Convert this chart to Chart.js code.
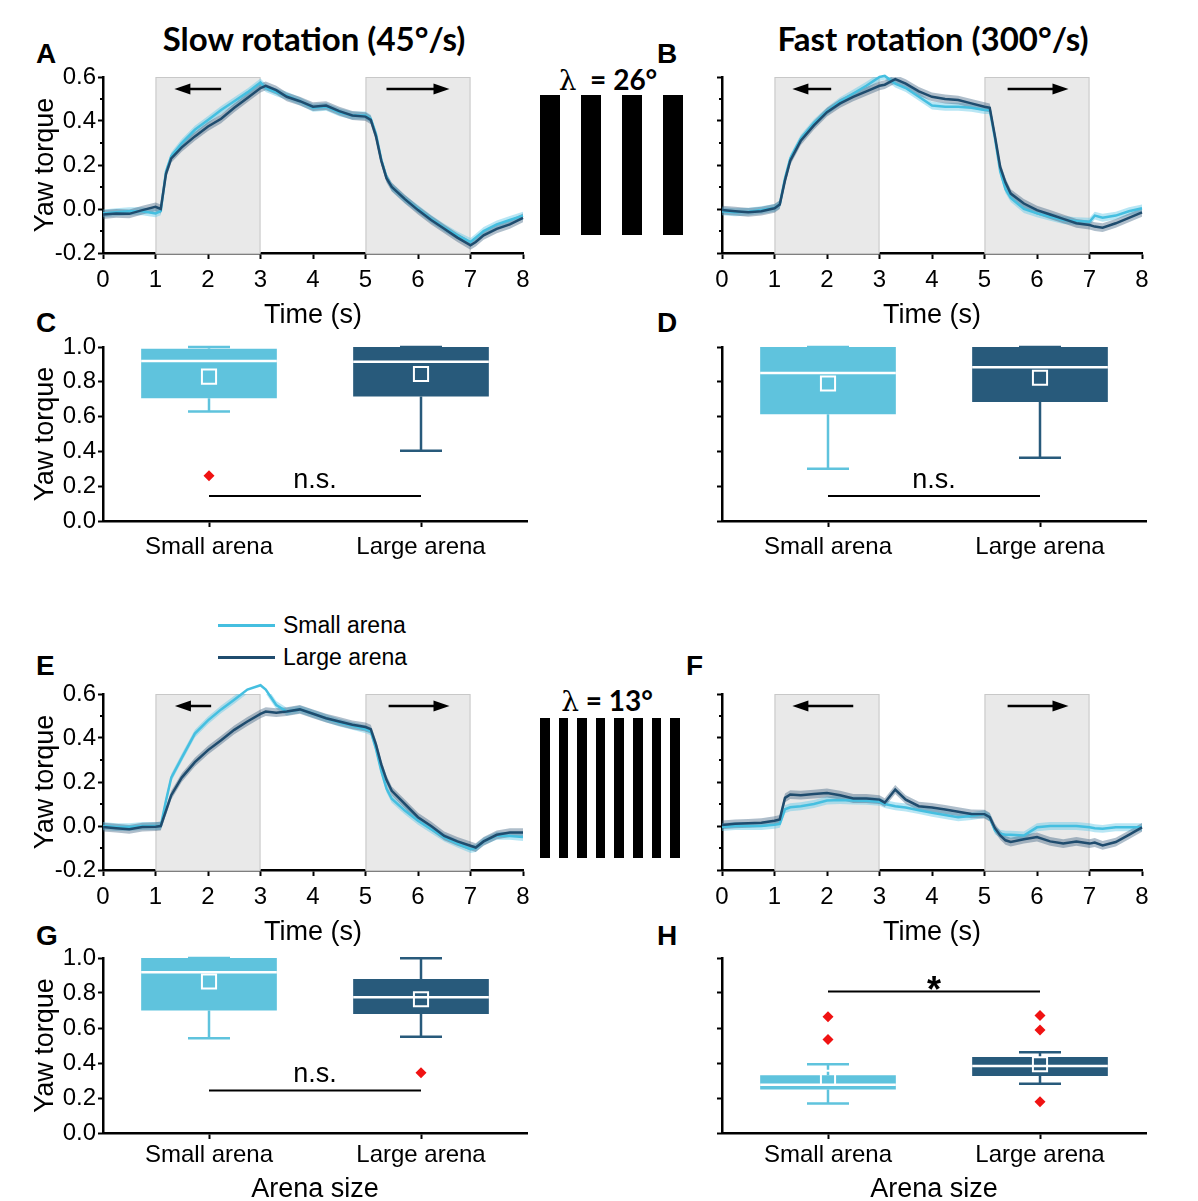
<!DOCTYPE html>
<html>
<head>
<meta charset="utf-8">
<title>Yaw torque - arena size</title>
<script src="https://cdn.jsdelivr.net/npm/chart.js@4.4.1/dist/chart.umd.min.js"></script>
<style>
  html, body { margin: 0; padding: 0; background: #fff; }
  body { position: relative; width: 1198px; height: 1201px; overflow: hidden; font-family: "Liberation Sans", Arial, sans-serif; color: #000; }
  canvas { position: absolute; }
  .letter { position: absolute; font-weight: bold; font-size: 28px; line-height: 28px; }
  .title { position: absolute; font-family: Lato, "Open Sans", sans-serif; font-weight: bold; font-size: 33px; line-height: 33px; transform: translate(-50%, -50%); white-space: nowrap; }
  .lam { position: absolute; font-family: Lato, "Open Sans", sans-serif; font-weight: bold; font-size: 28px; line-height: 28px; transform: translate(-50%, -50%); white-space: nowrap; }
  .lam span { font-family: "DejaVu Serif", "Liberation Serif", serif; font-weight: normal; }
  .bar { position: absolute; background: #000; }
  .leg { position: absolute; font-size: 23px; line-height: 23px; white-space: nowrap; }
  .legline { position: absolute; height: 3px; width: 57px; }
</style>
</head>
<body>

<div class="title" style="left:314px;top:38px">Slow rotation (45°/s)</div>
<div class="title" style="left:933px;top:38px">Fast rotation (300°/s)</div>

<div class="letter" style="left:36px;top:40px">A</div>
<div class="letter" style="left:657px;top:40px">B</div>
<div class="letter" style="left:36px;top:309px">C</div>
<div class="letter" style="left:657px;top:309px">D</div>
<div class="letter" style="left:36px;top:652px">E</div>
<div class="letter" style="left:686px;top:652px">F</div>
<div class="letter" style="left:36px;top:922px">G</div>
<div class="letter" style="left:657px;top:922px">H</div>

<div class="lam" style="left:608px;top:80px"><span>λ</span>&nbsp; = 26°</div>
<div class="lam" style="left:607px;top:701px"><span>λ</span> = 13°</div>
<div id="gratings"></div>
<div id="legend"></div>

<canvas id="chartA" width="540" height="275" style="left:0;top:60px"></canvas>
<canvas id="chartB" width="540" height="275" style="left:619px;top:60px"></canvas>
<canvas id="chartC" width="540" height="240" style="left:0;top:330px"></canvas>
<canvas id="chartD" width="540" height="240" style="left:619px;top:330px"></canvas>
<canvas id="chartE" width="540" height="275" style="left:0;top:677px"></canvas>
<canvas id="chartF" width="540" height="275" style="left:619px;top:677px"></canvas>
<canvas id="chartG" width="540" height="270" style="left:0;top:941px"></canvas>
<canvas id="chartH" width="540" height="270" style="left:619px;top:941px"></canvas>

<script>
// thời điểm lấy mẫu (s)
const times = [0, 0.25, 0.5, 0.75, 1, 1.1, 1.2, 1.3, 1.5, 1.75, 2, 2.25, 2.5, 2.75, 3, 3.1, 3.3, 3.5, 3.75,
  4, 4.25, 4.5, 4.75, 5, 5.1, 5.2, 5.3, 5.4, 5.5, 5.75, 6, 6.25, 6.5, 6.75, 7, 7.1, 7.25, 7.5, 7.75, 8];

// A: slow rotation, lambda 26
const slow26Small = [-0.02, -0.015, -0.01, -0.01, -0.02, -0.01, 0.17, 0.24, 0.30, 0.36, 0.405, 0.45, 0.49, 0.53,
  0.575, 0.55, 0.53, 0.515, 0.49, 0.46, 0.465, 0.44, 0.425, 0.425, 0.41, 0.34, 0.225, 0.145, 0.10, 0.045,
  0.0, -0.045, -0.085, -0.12, -0.15, -0.13, -0.10, -0.07, -0.05, -0.03];
const slow26Large = [-0.025, -0.02, -0.022, -0.005, 0.01, 0.0, 0.16, 0.23, 0.28, 0.33, 0.375, 0.41, 0.46, 0.505,
  0.55, 0.56, 0.54, 0.51, 0.49, 0.465, 0.47, 0.445, 0.425, 0.42, 0.405, 0.33, 0.22, 0.14, 0.10, 0.045,
  -0.005, -0.05, -0.09, -0.13, -0.165, -0.15, -0.12, -0.09, -0.07, -0.04];
// B: fast rotation, lambda 26
const fast26Small = [-0.01, -0.015, -0.012, -0.005, 0.005, 0.02, 0.14, 0.23, 0.32, 0.39, 0.445, 0.49, 0.525, 0.56,
  0.60, 0.605, 0.57, 0.55, 0.51, 0.47, 0.465, 0.465, 0.46, 0.45, 0.45, 0.32, 0.17, 0.09, 0.05, 0.0,
  -0.02, -0.035, -0.05, -0.055, -0.058, -0.03, -0.04, -0.03, -0.01, 0.003];
const fast26Large = [-0.005, -0.01, -0.015, -0.01, 0.003, 0.02, 0.13, 0.22, 0.31, 0.38, 0.44, 0.48, 0.51, 0.535,
  0.56, 0.565, 0.59, 0.57, 0.535, 0.51, 0.50, 0.495, 0.48, 0.465, 0.46, 0.33, 0.19, 0.12, 0.07, 0.025,
  -0.005, -0.025, -0.045, -0.065, -0.073, -0.08, -0.085, -0.065, -0.04, -0.015];
// E: slow rotation, lambda 13
const slow13Small = [0.0, -0.005, -0.005, 0.0, 0.0, 0.0, 0.116, 0.22, 0.31, 0.42, 0.48, 0.53, 0.574, 0.62,
  0.64, 0.62, 0.55, 0.52, 0.53, 0.51, 0.49, 0.47, 0.455, 0.44, 0.43, 0.35, 0.25, 0.17, 0.124, 0.07,
  0.024, -0.015, -0.052, -0.08, -0.105, -0.10, -0.07, -0.044, -0.045, -0.05];
const slow13Large = [-0.005, -0.01, -0.015, -0.005, -0.003, 0.0, 0.07, 0.14, 0.22, 0.29, 0.345, 0.39, 0.437, 0.475,
  0.51, 0.52, 0.515, 0.52, 0.53, 0.51, 0.49, 0.475, 0.46, 0.45, 0.44, 0.37, 0.28, 0.21, 0.16, 0.10,
  0.04, 0.0, -0.045, -0.07, -0.09, -0.098, -0.07, -0.04, -0.03, -0.03];
// F: fast rotation, lambda 13
const fast13Small = [-0.005, 0.0, 0.0, 0.0, 0.006, 0.01, 0.076, 0.085, 0.09, 0.10, 0.116, 0.118, 0.116, 0.115,
  0.11, 0.10, 0.09, 0.084, 0.072, 0.06, 0.05, 0.04, 0.045, 0.054, 0.04, -0.02, -0.035, -0.04, -0.04, -0.043,
  -0.006, 0.0, 0.0, 0.0, -0.006, -0.01, -0.013, -0.006, -0.006, -0.006];
const fast13Large = [0.005, 0.01, 0.012, 0.015, 0.024, 0.03, 0.128, 0.143, 0.14, 0.145, 0.15, 0.14, 0.125, 0.125,
  0.12, 0.106, 0.166, 0.12, 0.09, 0.084, 0.075, 0.065, 0.055, 0.054, 0.04, -0.01, -0.043, -0.065, -0.073, -0.06,
  -0.05, -0.07, -0.08, -0.07, -0.08, -0.075, -0.088, -0.073, -0.04, -0.006];

const semSmall = 0.018;
const semLarge = 0.02;
const stimWindows = [[1, 3], [5, 7]];

const categories = ['Small arena', 'Large arena'];
const seriesNames = ['Small arena', 'Large arena'];

// box plot: C (slow 26), D (fast 26), G (slow 13), H (fast 13)
const cLow = [0.63, 0.404], cQ1 = [0.705, 0.715], cMedian = [0.92, 0.915], cQ3 = [0.99, 1.0], cHigh = [1.0, 1.0], cMean = [0.83, 0.845];
const cOutSmall = [0.26], cOutLarge = [];
const dLow = [0.30, 0.364], dQ1 = [0.613, 0.684], dMedian = [0.85, 0.884], dQ3 = [1.0, 1.0], dHigh = [1.0, 1.0], dMean = [0.79, 0.823];
const dOutSmall = [], dOutLarge = [];
const gLow = [0.542, 0.55], gQ1 = [0.70, 0.68], gMedian = [0.918, 0.776], gQ3 = [1.0, 0.88], gHigh = [1.0, 0.998], gMean = [0.866, 0.764];
const gOutSmall = [], gOutLarge = [0.345];
const hLow = [0.169, 0.282], hQ1 = [0.248, 0.326], hMedian = [0.276, 0.383], hQ3 = [0.33, 0.435], hHigh = [0.393, 0.462], hMean = [0.315, 0.393];
const hOutSmall = [0.665, 0.534], hOutLarge = [0.672, 0.588, 0.178];
const sigLevels = [0.143, 0.143, 0.243, 0.808];   // C, D, G, H
const sigTexts = ['n.s.', 'n.s.', 'n.s.', '*'];

// màu sắc
const lineSmall = '#45bfe0';
const lineLarge = '#1f4c6e';
const bandSmall = 'rgba(98, 200, 230, 0.45)';
const bandLarge = 'rgba(45, 85, 118, 0.38)';
const boxSmall = '#5fc3dd';
const boxLarge = '#285a7b';

Chart.defaults.font.family = '"Liberation Sans", Arial, sans-serif';
Chart.defaults.color = '#000';

const tickFont = { size: 24 };
const titleFont = { size: 27 };

// legend + gratings (HTML)
const legend = document.getElementById('legend');
[lineSmall, lineLarge].forEach((c, i) => {
    const ln = document.createElement('div');
    ln.className = 'legline';
    ln.style.cssText = `left:218px;top:${624 + i * 32}px;background:${c}`;
    legend.appendChild(ln);
    const tx = document.createElement('div');
    tx.className = 'leg';
    tx.style.cssText = `left:283px;top:${614 + i * 32}px`;
    tx.textContent = seriesNames[i];
    legend.appendChild(tx);
});
const gratings = document.getElementById('gratings');
function addGrating(n, x0, period, w, top) {
    for (let i = 0; i < n; i++) {
        const b = document.createElement('div');
        b.className = 'bar';
        b.style.cssText = `left:${x0 + i * period}px;top:${top}px;width:${w}px;height:140px`;
        gratings.appendChild(b);
    }
}
addGrating(4, 540, 41, 19.5, 95);
addGrating(8, 540, 18.6, 9.5, 718);

// vùng kích thích + mũi tên + vạch phụ
const stimPlugin = {
    id: 'stim',
    beforeDatasetsDraw(chart) {
        const { ctx, chartArea: a, scales: { x } } = chart;
        ctx.save();
        stimWindows.forEach(w => {
            const x0 = x.getPixelForValue(w[0]), x1 = x.getPixelForValue(w[1]);
            ctx.fillStyle = '#e9e9e9';
            ctx.fillRect(x0, a.top, x1 - x0, a.bottom - a.top);
            ctx.strokeStyle = '#c8c8c8';
            ctx.lineWidth = 1;
            ctx.strokeRect(x0 + 0.5, a.top + 0.5, x1 - x0 - 1, a.bottom - a.top);
        });
        ctx.restore();
    },
    afterDatasetsDraw(chart, args, opts) {
        const { ctx, chartArea: a, scales: { x } } = chart;
        const yy = a.top + 12;
        ctx.save();
        ctx.strokeStyle = '#000';
        ctx.fillStyle = '#000';
        ctx.lineWidth = 2.5;
        (opts.arrows || []).forEach(([from, to]) => {
            const x0 = x.getPixelForValue(from), x1 = x.getPixelForValue(to);
            const dir = Math.sign(x1 - x0);
            ctx.beginPath();
            ctx.moveTo(x0, yy);
            ctx.lineTo(x1 - dir * 12, yy);
            ctx.stroke();
            ctx.beginPath();
            ctx.moveTo(x1, yy);
            ctx.lineTo(x1 - dir * 16, yy - 5.5);
            ctx.lineTo(x1 - dir * 16, yy + 5.5);
            ctx.closePath();
            ctx.fill();
        });
        ctx.restore();
    },
    afterDraw(chart) {
        const { ctx, scales: { y } } = chart;
        ctx.save();
        ctx.strokeStyle = '#000';
        ctx.lineWidth = 2;
        for (let v = y.min + 0.1; v < y.max; v += 0.2) {
            const py = Math.round(y.getPixelForValue(v));
            ctx.beginPath();
            ctx.moveTo(y.right - 3, py);
            ctx.lineTo(y.right, py);
            ctx.stroke();
        }
        ctx.restore();
    }
};

function timeChart(id, small, large, showLabels, arrows) {
    const pts = (v, d) => times.map((t, i) => ({ x: t, y: v[i] + d }));
    const band = (v, d, fillColor) => ({
        data: pts(v, d), borderWidth: 0, borderColor: 'transparent', pointRadius: 0,
        fill: fillColor ? '+1' : false, backgroundColor: fillColor || 'transparent'
    });
    return new Chart(document.getElementById(id), {
        type: 'line',
        data: {
            datasets: [
                { label: seriesNames[1], data: pts(large, 0), borderColor: lineLarge, borderWidth: 2.5, pointRadius: 0, clip: false },
                { label: seriesNames[0], data: pts(small, 0), borderColor: lineSmall, borderWidth: 2.5, pointRadius: 0, clip: false },
                band(large, semLarge, bandLarge),
                band(large, -semLarge, null),
                band(small, semSmall, bandSmall),
                band(small, -semSmall, null)
            ]
        },
        options: {
            responsive: false,
            animation: false,
            events: [],
            layout: { padding: { left: 0, top: 17, right: 17, bottom: 0 } },
            plugins: { legend: { display: false }, tooltip: { enabled: false }, stim: { arrows } },
            scales: {
                x: {
                    type: 'linear', min: 0, max: 8,
                    ticks: { stepSize: 1, font: tickFont, padding: 7, maxRotation: 0 },
                    grid: { drawOnChartArea: false, tickLength: 6, tickColor: '#000', tickWidth: 2 },
                    border: { color: '#000', width: 2.5 },
                    title: { display: true, text: 'Time (s)', font: titleFont, padding: { top: 0, bottom: 3 } },
                    afterFit: s => { s.height = 82; }
                },
                y: {
                    min: -0.2, max: 0.6,
                    ticks: { stepSize: 0.2, display: showLabels, font: tickFont, padding: 2, callback: v => v.toFixed(1) },
                    grid: { drawOnChartArea: false, tickLength: 5, tickColor: '#000', tickWidth: 2 },
                    border: { color: '#000', width: 2.5 },
                    title: { display: showLabels, text: 'Yaw torque', font: titleFont, padding: { top: 29, bottom: 0 } },
                    afterFit: s => { s.width = 103; }
                }
            }
        },
        plugins: [stimPlugin]
    });
}

// râu, trung vị, vạch ý nghĩa thống kê
const boxPlugin = {
    id: 'boxParts',
    beforeDatasetsDraw(chart, args, o) {
        const { ctx, scales: { y } } = chart;
        const bars = chart.getDatasetMeta(o.barIndex).data;
        ctx.save();
        ctx.lineWidth = 2.5;
        bars.forEach((b, i) => {
            ctx.strokeStyle = o.colors[i];
            const yl = y.getPixelForValue(o.low[i]), yh = y.getPixelForValue(o.high[i]);
            const y1 = y.getPixelForValue(o.q1[i]), y3 = y.getPixelForValue(o.q3[i]);
            ctx.beginPath();
            ctx.moveTo(b.x, y1); ctx.lineTo(b.x, yl);
            ctx.moveTo(b.x, y3); ctx.lineTo(b.x, yh);
            ctx.moveTo(b.x - 21, yl); ctx.lineTo(b.x + 21, yl);
            ctx.moveTo(b.x - 21, yh); ctx.lineTo(b.x + 21, yh);
            ctx.stroke();
        });
        ctx.restore();
    },
    afterDatasetDraw(chart, args, o) {
        if (args.index !== o.barIndex) return;
        const { ctx, scales: { y } } = chart;
        const bars = chart.getDatasetMeta(o.barIndex).data;
        ctx.save();
        ctx.strokeStyle = '#fff';
        ctx.lineWidth = 2.5;
        bars.forEach((b, i) => {
            const ym = y.getPixelForValue(o.median[i]);
            ctx.beginPath();
            ctx.moveTo(b.x - b.width / 2, ym);
            ctx.lineTo(b.x + b.width / 2, ym);
            ctx.stroke();
        });
        ctx.restore();
    },
    afterDatasetsDraw(chart, args, o) {
        const { ctx, scales: { x, y } } = chart;
        const x0 = x.getPixelForValue(0), x1 = x.getPixelForValue(1);
        const ys = y.getPixelForValue(o.sigY);
        ctx.save();
        ctx.strokeStyle = '#000';
        ctx.lineWidth = 2;
        ctx.beginPath();
        ctx.moveTo(x0, ys);
        ctx.lineTo(x1, ys);
        ctx.stroke();
        ctx.fillStyle = '#000';
        ctx.textAlign = 'center';
        ctx.textBaseline = 'alphabetic';
        if (o.sigText === '*') {
            ctx.font = 'bold 36px "Liberation Sans", Arial, sans-serif';
            ctx.fillText(o.sigText, (x0 + x1) / 2, ys + 10);
        } else {
            ctx.font = '27px "Liberation Sans", Arial, sans-serif';
            ctx.fillText(o.sigText, (x0 + x1) / 2, ys - 8);
        }
        ctx.restore();
    }
};

function boxChart(id, low, q1, median, q3, high, mean, outSmall, outLarge, sigY, sigText, showLabels, xTitle, xHeight, labelPad) {
    const outliers = outSmall.map(v => ({ x: categories[0], y: v })).concat(outLarge.map(v => ({ x: categories[1], y: v })));
    return new Chart(document.getElementById(id), {
        type: 'bar',
        data: {
            labels: categories,
            datasets: [
                {
                    type: 'bar', data: q1.map((q, i) => [q, q3[i]]), backgroundColor: [boxSmall, boxLarge],
                    borderWidth: 0, barPercentage: 0.64, categoryPercentage: 1, order: 1
                },
                {
                    type: 'line', data: mean, showLine: false, pointStyle: 'rect', pointRadius: 10,
                    pointBorderColor: '#fff', pointBackgroundColor: 'rgba(0,0,0,0)', pointBorderWidth: 2, order: 0
                },
                {
                    type: 'line', data: outliers, showLine: false, pointStyle: 'rectRot', pointRadius: 5.5,
                    pointBackgroundColor: '#f01212', pointBorderColor: '#f01212', pointBorderWidth: 0, order: 0
                }
            ]
        },
        options: {
            responsive: false,
            animation: false,
            events: [],
            layout: { padding: { left: 0, top: 17, right: 13, bottom: 0 } },
            plugins: {
                legend: { display: false }, tooltip: { enabled: false },
                boxParts: { barIndex: 0, colors: [boxSmall, boxLarge], low, q1, median, q3, high, sigY, sigText }
            },
            scales: {
                x: {
                    type: 'category', offset: true,
                    ticks: { font: tickFont, padding: labelPad, maxRotation: 0 },
                    grid: { offset: false, drawOnChartArea: false, tickLength: 6, tickColor: '#000', tickWidth: 2 },
                    border: { color: '#000', width: 2.5 },
                    title: { display: !!xTitle, text: xTitle || '', font: titleFont, padding: { top: 0, bottom: 5 } },
                    afterFit: s => { s.height = xHeight; }
                },
                y: {
                    min: 0, max: 1,
                    ticks: { stepSize: 0.2, display: showLabels, font: tickFont, padding: 2, callback: v => v.toFixed(1) },
                    grid: { drawOnChartArea: false, tickLength: 5, tickColor: '#000', tickWidth: 2 },
                    border: { color: '#000', width: 2.5 },
                    title: { display: showLabels, text: 'Yaw torque', font: titleFont, padding: { top: 29, bottom: 0 } },
                    afterFit: s => { s.width = 103; }
                }
            }
        },
        plugins: [boxPlugin]
    });
}

timeChart('chartA', slow26Small, slow26Large, true, [[2.25, 1.36], [5.4, 6.6]]);
timeChart('chartB', fast26Small, fast26Large, false, [[2.08, 1.34], [5.44, 6.6]]);
timeChart('chartE', slow13Small, slow13Large, true, [[2.06, 1.37], [5.44, 6.6]]);
timeChart('chartF', fast13Small, fast13Large, false, [[2.5, 1.34], [5.44, 6.6]]);

boxChart('chartC', cLow, cQ1, cMedian, cQ3, cHigh, cMean, cOutSmall, cOutLarge, sigLevels[0], sigTexts[0], true, null, 49, 6);
boxChart('chartD', dLow, dQ1, dMedian, dQ3, dHigh, dMean, dOutSmall, dOutLarge, sigLevels[1], sigTexts[1], false, null, 49, 6);
boxChart('chartG', gLow, gQ1, gMedian, gQ3, gHigh, gMean, gOutSmall, gOutLarge, sigLevels[2], sigTexts[2], true, 'Arena size', 78, 2);
boxChart('chartH', hLow, hQ1, hMedian, hQ3, hHigh, hMean, hOutSmall, hOutLarge, sigLevels[3], sigTexts[3], false, 'Arena size', 78, 2);
</script>
</body>
</html>
